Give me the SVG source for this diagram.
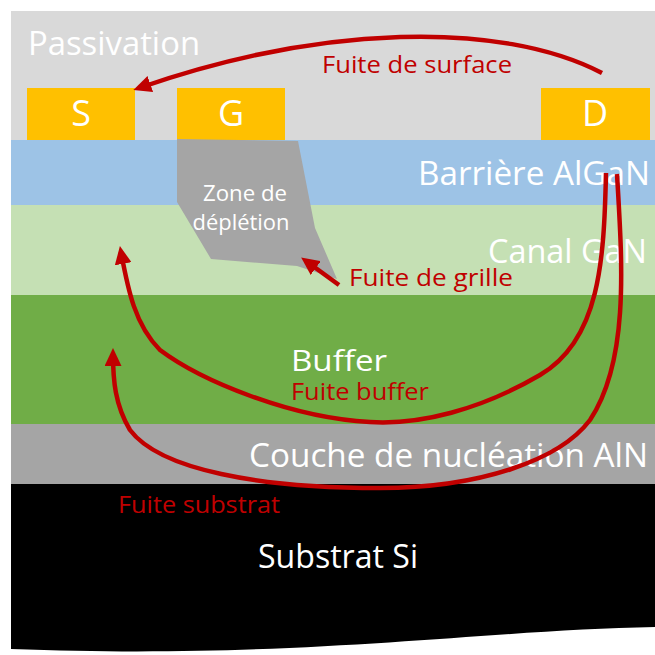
<svg xmlns="http://www.w3.org/2000/svg" width="655" height="655" viewBox="0 0 655 655">
<style>
  text { font-family: "Open Sans", "Noto Sans", "DejaVu Sans", sans-serif; }
  .lbl { fill: #ffffff; }
  .leak { fill: #c00000; font-size: 24px; }
  .big { font-size: 32px; }
  .elec { fill: #ffc000; }
  .el { fill: #ffffff; font-size: 36px; text-anchor: middle; }
  .path { fill: none; stroke: #c00000; stroke-width: 4.5; stroke-linecap: butt; marker-end: url(#arr); }
</style>
<defs>
  <marker id="arr" viewBox="0 0 18 17" markerWidth="18" markerHeight="17" markerUnits="userSpaceOnUse" refX="12" refY="8.5" orient="auto">
    <path d="M0,0 L18,8.5 L0,17 z" fill="#c00000"/>
  </marker>
</defs>
<rect width="655" height="655" fill="#ffffff"/>

<g id="passivation">
  <rect x="11" y="11" width="644" height="129" fill="#d9d9d9"/>
  <text class="lbl big" x="28" y="55" textLength="172" lengthAdjust="spacingAndGlyphs">Passivation</text>
</g>
<g id="barriere">
  <rect x="11" y="140" width="644" height="65" fill="#9dc3e6"/>
  <text class="lbl big" x="418" y="185" textLength="232" lengthAdjust="spacingAndGlyphs">Barrière AlGaN</text>
</g>
<g id="canal">
  <rect x="11" y="205" width="644" height="90" fill="#c5e0b4"/>
  <text class="lbl big" x="488" y="263" textLength="159" lengthAdjust="spacingAndGlyphs">Canal GaN</text>
</g>
<g id="buffer">
  <rect x="11" y="295" width="644" height="129" fill="#70ad47"/>
  <text class="lbl" x="291" y="371" font-size="30" textLength="96" lengthAdjust="spacingAndGlyphs">Buffer</text>
</g>
<g id="nucleation">
  <rect x="11" y="424" width="644" height="60" fill="#a5a5a5"/>
  <text class="lbl big" x="249" y="467" textLength="399" lengthAdjust="spacingAndGlyphs">Couche de nucléation AlN</text>
</g>
<g id="substrat">
  <path d="M11,484 H655 V627 C480,630 300,660 11,649 Z" fill="#000000"/>
  <text class="lbl big" x="258" y="568" textLength="160" lengthAdjust="spacingAndGlyphs">Substrat Si</text>
</g>
<g id="source">
  <rect class="elec" x="27" y="88" width="108" height="52"/>
  <text class="el" x="81" y="126">S</text>
</g>
<g id="grille">
  <rect class="elec" x="177" y="88" width="108" height="52"/>
  <text class="el" x="231" y="126">G</text>
</g>
<g id="drain">
  <rect class="elec" x="541" y="88" width="109" height="52"/>
  <text class="el" x="595" y="126">D</text>
</g>
<g id="depletion">
  <polygon points="177,139 298,141 315,228 337,279 297,266 211,259 177,202" fill="#a5a5a5"/>
  <text class="lbl" x="245" y="201" font-size="22" text-anchor="middle" textLength="84" lengthAdjust="spacingAndGlyphs">Zone de</text>
  <text class="lbl" x="241" y="230" font-size="22" text-anchor="middle" textLength="97" lengthAdjust="spacingAndGlyphs">déplétion</text>
</g>

<g id="connectors">
  <path class="path" d="M602,73 C500,20 320,25 139,88"/>
  <path class="path" d="M339,285 L306,261"/>
  <path class="path" d="M606,173 C604,260 600,340 540,375 C480,410 420,425 370,422 C290,418 200,380 160,350 C135,325 128,290 121,252"/>
  <path class="path" d="M617,174 C622,260 630,360 590,420 C560,460 480,488 380,488 C260,488 160,470 130,430 C115,405 113,380 113,354"/>
</g>

<g id="labels">
  <text class="leak" x="322" y="73" textLength="190" lengthAdjust="spacingAndGlyphs">Fuite de surface</text>
  <text class="leak" x="349" y="286" textLength="164" lengthAdjust="spacingAndGlyphs">Fuite de grille</text>
  <text class="leak" x="291" y="400" textLength="138" lengthAdjust="spacingAndGlyphs">Fuite buffer</text>
  <text class="leak" x="118" y="513" textLength="162" lengthAdjust="spacingAndGlyphs">Fuite substrat</text>
</g>
</svg>
